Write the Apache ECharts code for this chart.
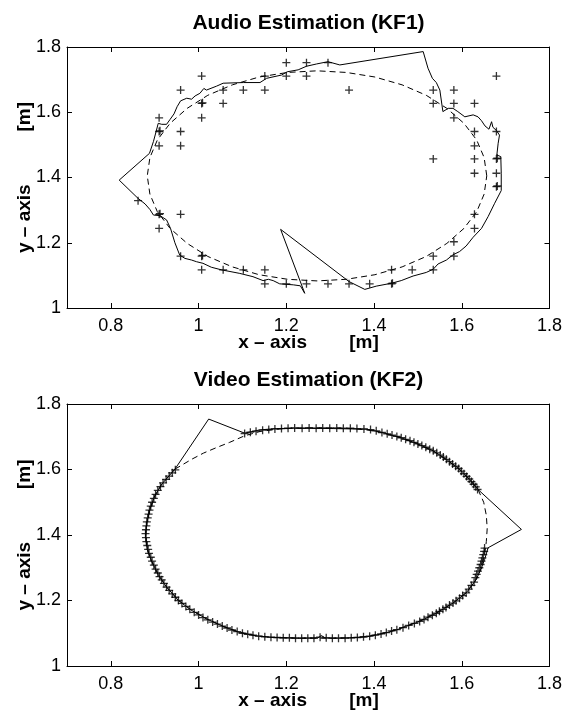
<!DOCTYPE html>
<html>
<head>
<meta charset="utf-8">
<script src="https://cdn.jsdelivr.net/npm/echarts@6/dist/echarts.min.js"></script>
<style>
  html, body { margin: 0; padding: 0; background: #fff; }
  #chart { width: 565px; height: 715px; }
</style>
</head>
<body>
<div id="chart"></div>
<script>
const xRange = [0.7, 1.8];
const yRange = [1.0, 1.8];
const tickStep = 0.2;
const plotTitles = ['Audio Estimation (KF1)', 'Video Estimation (KF2)'];
const xName = 'x \u2013 axis        [m]';
const yName = 'y \u2013 axis          [m]';

// true path (dashed)
const audioTruth = [
  [1.657,1.405],[1.651,1.461],[1.634,1.515],[1.605,1.566],[1.566,1.612],[1.519,1.652],
  [1.464,1.684],[1.402,1.708],[1.337,1.722],[1.270,1.727],[1.203,1.722],[1.138,1.708],
  [1.077,1.684],[1.021,1.652],[0.974,1.612],[0.935,1.566],[0.906,1.515],[0.889,1.461],
  [0.883,1.405],[0.889,1.349],[0.906,1.295],[0.935,1.244],[0.974,1.198],[1.021,1.158],
  [1.077,1.126],[1.138,1.102],[1.203,1.088],[1.270,1.083],[1.337,1.088],[1.402,1.102],
  [1.464,1.126],[1.519,1.158],[1.566,1.198],[1.605,1.244],[1.634,1.295],[1.651,1.349],
  [1.657,1.405]
];

const videoTruth = [
  [0.946,1.601],[0.984,1.631],[1.011,1.650],[1.041,1.667],[1.071,1.683],[1.105,1.703],
  [1.140,1.716],[1.178,1.723],[1.216,1.726],[1.254,1.727],[1.307,1.727],[1.350,1.725],
  [1.383,1.721],[1.413,1.714],[1.459,1.698],[1.497,1.679],[1.535,1.656],[1.565,1.630],
  [1.595,1.600],[1.618,1.569],[1.637,1.539],[1.650,1.500],[1.656,1.460],[1.658,1.420],
  [1.656,1.380],[1.652,1.340],[1.645,1.300],[1.633,1.264],[1.610,1.224],[1.580,1.192],
  [1.542,1.162],[1.504,1.137],[1.451,1.111],[1.421,1.100],[1.383,1.090],[1.345,1.086],
  [1.307,1.085],[1.270,1.085],[1.231,1.085],[1.170,1.087],[1.132,1.092],[1.094,1.103],
  [1.056,1.121],[1.018,1.144],[0.984,1.170],[0.954,1.201],[0.927,1.241],[0.908,1.279],
  [0.893,1.320],[0.883,1.356],[0.879,1.396],[0.882,1.437],[0.889,1.478],[0.900,1.519],
  [0.916,1.555],[0.946,1.601]
];

const audioEstimate = [
  [1.379,1.057],[1.405,1.067],[1.440,1.076],[1.462,1.084],[1.489,1.098],[1.519,1.109],
  [1.535,1.119],[1.546,1.135],[1.565,1.147],[1.580,1.163],[1.595,1.173],[1.610,1.190],
  [1.626,1.217],[1.645,1.244],[1.660,1.280],[1.675,1.321],[1.690,1.360],[1.690,1.413],
  [1.689,1.464],[1.680,1.469],[1.683,1.505],[1.686,1.530],[1.679,1.544],[1.671,1.554],
  [1.668,1.571],[1.662,1.548],[1.653,1.558],[1.645,1.574],[1.637,1.586],[1.626,1.592],
  [1.607,1.586],[1.591,1.602],[1.580,1.612],[1.569,1.612],[1.557,1.602],[1.550,1.668],
  [1.542,1.691],[1.533,1.704],[1.523,1.735],[1.512,1.786],[1.322,1.745],[1.295,1.755],
  [1.269,1.748],[1.246,1.741],[1.227,1.730],[1.202,1.724],[1.189,1.714],[1.155,1.704],
  [1.140,1.691],[1.102,1.691],[1.056,1.689],[1.041,1.680],[1.018,1.668],[1.012,1.673],
  [1.003,1.658],[0.992,1.650],[0.984,1.640],[0.973,1.643],[0.959,1.635],[0.951,1.617],
  [0.944,1.595],[0.935,1.578],[0.927,1.563],[0.916,1.563],[0.908,1.566],[0.903,1.540],
  [0.897,1.510],[0.888,1.474],[0.819,1.392],[0.862,1.336],[0.878,1.319],[0.889,1.302],
  [0.897,1.285],[0.912,1.283],[0.927,1.270],[0.936,1.244],[0.946,1.200],[0.957,1.162],
  [0.969,1.152],[0.984,1.147],[0.995,1.142],[1.010,1.137],[1.029,1.125],[1.052,1.117],
  [1.094,1.106],[1.124,1.096],[1.147,1.084],[1.159,1.088],[1.170,1.084],[1.185,1.074],
  [1.216,1.071],[1.232,1.068],[1.242,1.045],[1.187,1.241],[1.343,1.081],[1.379,1.057]
];

const audioMeasured = [
  [1.200,1.752],[1.246,1.752],[1.295,1.752],[1.007,1.711],[1.151,1.711],[1.200,1.711],
  [1.246,1.711],[1.679,1.711],[0.959,1.668],[1.056,1.668],[1.102,1.668],[1.151,1.668],
  [1.343,1.668],[1.535,1.668],[1.582,1.668],[1.007,1.627],[1.009,1.629],[1.056,1.627],
  [1.535,1.627],[1.582,1.627],[1.629,1.627],[0.910,1.583],[1.007,1.583],[1.582,1.583],
  [0.910,1.541],[0.912,1.543],[0.959,1.541],[1.629,1.541],[1.679,1.541],[0.910,1.497],
  [0.959,1.497],[1.629,1.497],[1.535,1.457],[1.629,1.457],[1.679,1.457],[1.681,1.459],
  [1.629,1.413],[1.679,1.413],[1.679,1.372],[1.681,1.374],[0.862,1.329],[0.910,1.287],
  [0.912,1.289],[0.959,1.287],[1.629,1.287],[0.910,1.244],[1.629,1.244],[1.582,1.203],
  [0.959,1.159],[1.007,1.159],[1.009,1.161],[1.535,1.159],[1.582,1.159],[1.007,1.117],
  [1.056,1.117],[1.102,1.117],[1.151,1.117],[1.440,1.117],[1.487,1.117],[1.535,1.117],
  [1.151,1.074],[1.200,1.074],[1.246,1.074],[1.295,1.074],[1.343,1.074],[1.390,1.074],
  [1.440,1.074],[1.442,1.076]
];

const videoEstimate = [
  [0.946,1.601],[1.023,1.754],[1.105,1.711],[1.140,1.721],[1.178,1.725],[1.216,1.726],
  [1.254,1.726],[1.307,1.725],[1.383,1.723],[1.413,1.715],[1.459,1.698],[1.497,1.680],
  [1.535,1.657],[1.565,1.631],[1.595,1.601],[1.618,1.570],[1.637,1.539],[1.736,1.417],
  [1.660,1.361],[1.652,1.325],[1.645,1.300],[1.633,1.264],[1.610,1.223],[1.580,1.192],
  [1.542,1.161],[1.504,1.136],[1.451,1.110],[1.421,1.099],[1.383,1.089],[1.345,1.086],
  [1.307,1.085],[1.288,1.086],[1.280,1.093],[1.272,1.086],[1.231,1.085],[1.170,1.087],
  [1.132,1.092],[1.094,1.102],[1.056,1.121],[1.018,1.144],[0.984,1.170],[0.954,1.200],
  [0.927,1.241],[0.908,1.279],[0.893,1.320],[0.883,1.356],[0.879,1.396],[0.882,1.437],
  [0.889,1.478],[0.900,1.519],[0.916,1.555],[0.946,1.601]
];

const videoMeasured = [
  [1.105,1.710],[1.118,1.714],[1.131,1.717],[1.146,1.720],[1.160,1.722],[1.174,1.724],
  [1.189,1.725],[1.204,1.726],[1.219,1.727],[1.236,1.726],[1.252,1.727],[1.268,1.726],
  [1.283,1.727],[1.299,1.726],[1.315,1.727],[1.330,1.726],[1.346,1.726],[1.361,1.725],
  [1.377,1.724],[1.392,1.722],[1.405,1.718],[1.418,1.713],[1.430,1.709],[1.441,1.705],
  [1.452,1.701],[1.462,1.697],[1.472,1.692],[1.482,1.688],[1.491,1.683],[1.500,1.678],
  [1.509,1.673],[1.518,1.668],[1.527,1.662],[1.535,1.657],[1.543,1.651],[1.551,1.644],
  [1.558,1.638],[1.565,1.631],[1.572,1.624],[1.579,1.617],[1.586,1.610],[1.593,1.603],
  [1.599,1.595],[1.605,1.587],[1.611,1.579],[1.617,1.571],[1.622,1.563],[1.627,1.555],
  [1.632,1.547],[1.636,1.539],
  [1.652,1.360],[1.651,1.350],[1.649,1.340],[1.647,1.330],[1.645,1.320],[1.643,1.310],
  [1.640,1.300],[1.637,1.290],[1.634,1.280],[1.631,1.270],[1.628,1.256],[1.622,1.246],
  [1.616,1.235],[1.610,1.223],[1.602,1.215],[1.595,1.207],[1.587,1.199],[1.580,1.192],
  [1.572,1.186],[1.564,1.179],[1.557,1.173],[1.549,1.167],[1.542,1.161],[1.533,1.155],
  [1.523,1.149],[1.514,1.142],[1.504,1.136],[1.492,1.130],[1.479,1.124],[1.466,1.117],
  [1.452,1.111],[1.440,1.107],[1.428,1.102],[1.416,1.098],[1.403,1.094],[1.390,1.091],
  [1.376,1.089],[1.362,1.087],[1.348,1.086],[1.334,1.085],[1.319,1.085],[1.305,1.085],
  [1.291,1.086],[1.277,1.088],[1.263,1.085],[1.249,1.085],[1.235,1.085],[1.221,1.085],
  [1.207,1.086],[1.193,1.086],[1.179,1.087],[1.165,1.088],[1.151,1.089],[1.137,1.091],
  [1.124,1.094],[1.112,1.097],[1.100,1.100],[1.088,1.105],[1.076,1.110],[1.065,1.116],
  [1.054,1.122],[1.043,1.128],[1.032,1.134],[1.021,1.141],[1.010,1.148],[1.000,1.156],
  [0.990,1.164],[0.980,1.173],[0.971,1.182],[0.962,1.191],[0.954,1.200],[0.947,1.210],
  [0.940,1.220],[0.933,1.231],[0.927,1.241],[0.921,1.252],[0.916,1.263],[0.911,1.273],
  [0.907,1.284],[0.902,1.296],[0.898,1.308],[0.894,1.320],[0.891,1.332],[0.887,1.344],
  [0.885,1.356],[0.883,1.368],[0.881,1.380],[0.880,1.392],[0.879,1.404],[0.880,1.416],
  [0.881,1.428],[0.882,1.440],[0.884,1.452],[0.886,1.464],[0.888,1.476],[0.891,1.488],
  [0.894,1.500],[0.898,1.512],[0.902,1.524],[0.907,1.536],[0.913,1.548],[0.919,1.559],
  [0.926,1.570],[0.933,1.580],[0.940,1.590],[0.947,1.599]
];

const font = 'Liberation Sans';
const grids = [
  { left: 67, top: 47, width: 483, height: 261 },
  { left: 67, top: 404, width: 483, height: 262 }
];
const plus = 'path://M0,5L10,5M5,0L5,10';

const axisLine = { show: true, onZero: false, lineStyle: { color: '#000', width: 1 } };
const tick = { show: true, inside: true, length: 5, lineStyle: { color: '#000' } };
const labelStyle = { color: '#000', fontFamily: font, fontSize: 18 };

const xAxes = [], yAxes = [], graphics = [];
grids.forEach((g, i) => {
  ['bottom', 'top'].forEach(pos => xAxes.push({
    type: 'value', gridIndex: i, position: pos, min: xRange[0], max: xRange[1],
    minInterval: tickStep, maxInterval: tickStep, splitNumber: 6,
    axisLine, axisTick: tick, splitLine: { show: false },
    axisLabel: pos === 'bottom'
      ? Object.assign({ margin: 9, showMinLabel: false }, labelStyle)
      : { show: false }
  }));
  ['left', 'right'].forEach(pos => yAxes.push({
    type: 'value', gridIndex: i, position: pos, min: yRange[0], max: yRange[1],
    interval: tickStep, axisLine, axisTick: tick, splitLine: { show: false },
    axisLabel: pos === 'left' ? Object.assign({ margin: 6 }, labelStyle) : { show: false }
  }));
  const cx = g.left + g.width / 2, cy = g.top + g.height / 2;
  graphics.push(
    { type: 'text', x: cx, y: g.top - 24, style: { text: plotTitles[i], fill: '#000',
      font: 'bold 21px "' + font + '"', align: 'center', verticalAlign: 'middle' } },
    { type: 'text', x: cx, y: g.top + g.height + 35, style: { text: xName, fill: '#000',
      font: 'bold 19px "' + font + '"', align: 'center', verticalAlign: 'middle' } },
    { type: 'text', x: 25, y: cy, rotation: Math.PI / 2, style: { text: yName, fill: '#000',
      font: 'bold 19px "' + font + '"', align: 'center', verticalAlign: 'middle' } }
  );
});

const lineSeries = (data, i, dashed) => ({
  type: 'line', data, xAxisIndex: i * 2, yAxisIndex: i * 2, showSymbol: false,
  lineStyle: { color: '#000', width: 1, type: dashed ? [6, 4] : 'solid' }, z: 3
});
const markSeries = (data, i) => ({
  type: 'scatter', data, xAxisIndex: i * 2, yAxisIndex: i * 2, symbol: plus, symbolSize: 8,
  itemStyle: { color: 'rgba(0,0,0,0)', borderColor: '#000', borderWidth: 1.3 }, z: 2
});

echarts.init(document.getElementById('chart')).setOption({
  animation: false,
  backgroundColor: '#fff',
  grid: grids,
  xAxis: xAxes,
  yAxis: yAxes,
  graphic: graphics,
  series: [
    lineSeries(audioTruth, 0, true),
    lineSeries(audioEstimate, 0, false),
    markSeries(audioMeasured, 0),
    lineSeries(videoTruth, 1, true),
    lineSeries(videoEstimate, 1, false),
    markSeries(videoMeasured, 1)
  ]
});
</script>
</body>
</html>
